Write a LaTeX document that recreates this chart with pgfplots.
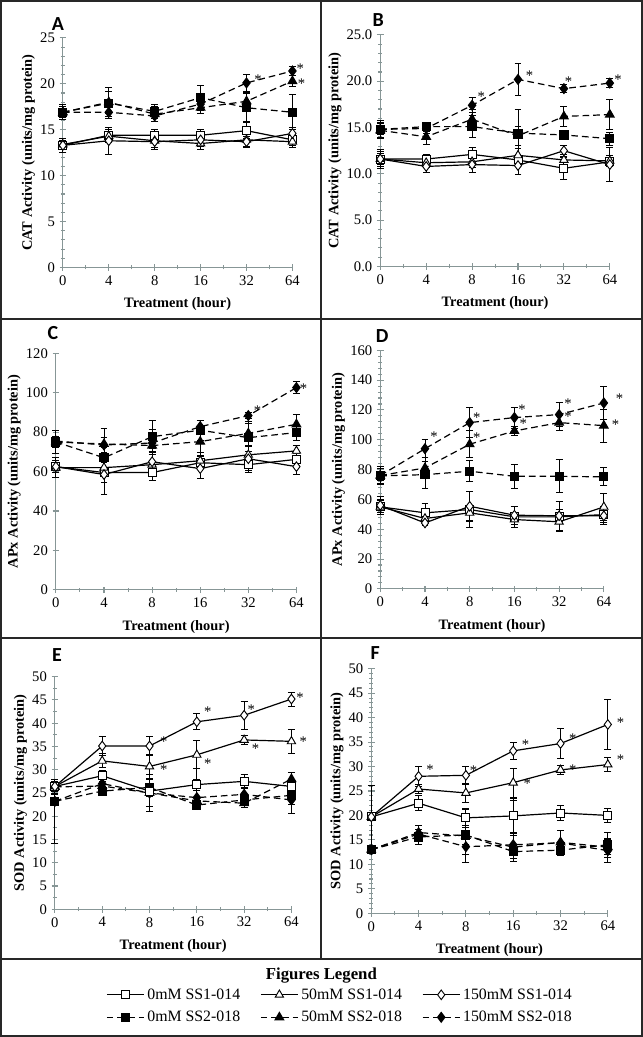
\documentclass[border=0pt]{standalone}
\usepackage{pgfplots}
\pgfplotsset{compat=1.18}
\usepackage{fontspec}
\setmainfont{Liberation Serif}
\newfontfamily\carlito{Carlito}
\definecolor{axisgray}{RGB}{135,150,150}
\definecolor{framec}{RGB}{40,40,40}

\pgfplotsset{
  panel/.style={
    scale only axis, anchor=south west,
    axis x line=bottom, axis y line=left,
    axis line style={draw=axisgray, line width=0.8pt, -},
    every tick/.style={draw=axisgray, line width=0.8pt},
    xmin=0, xmax=5, xtick={0,1,2,3,4,5}, xticklabels={0,4,8,16,32,64},
    minor x tick num=1, ymin=0, enlargelimits=false,
    tick align=center, major tick length=5pt, minor tick length=3pt,
    xlabel={Treatment (hour)},
    xlabel shift=2.5pt, ylabel shift=-3pt,
    label style={font=\bfseries\fontsize{10.8}{12}\selectfont},
    tick label style={font=\fontsize{11}{12}\selectfont},
    /pgf/number format/assume math mode=true,
    clip=false,
  },
  ebars/.style={
    error bars/y dir=both, error bars/y explicit,
    error bars/error bar style={line width=0.7pt, solid, black},
    error bars/error mark options={rotate=90, mark size=2.6pt, line width=0.7pt, black, solid},
  },
  osq/.style={black, line width=0.9pt, solid, mark=square*, mark size=3pt, mark options={fill=white, solid, line width=0.7pt}, ebars},
  otri/.style={black, line width=0.9pt, solid, mark=triangle*, mark size=3.6pt, mark options={fill=white, solid, line width=0.7pt}, ebars},
  odia/.style={black, line width=0.9pt, solid, mark=diamond*, mark size=3.6pt, mark options={fill=white, solid, line width=0.7pt}, ebars},
  fsq/.style={black, line width=0.9pt, dash pattern=on 5pt off 3pt, mark=square*, mark size=3pt, mark options={fill=black, solid}, ebars},
  ftri/.style={black, line width=0.9pt, dash pattern=on 5pt off 3pt, mark=triangle*, mark size=3.6pt, mark options={fill=black, solid}, ebars},
  fdia/.style={black, line width=0.9pt, dash pattern=on 5pt off 3pt, mark=diamond*, mark size=3.6pt, mark options={fill=black, solid}, ebars},
  stars/.style={only marks, mark=text, text mark={\fontsize{11}{12}\selectfont *}},
}

\begin{document}
\begin{tikzpicture}[x=0.75pt,y=0.75pt]
% frame
\draw[framec, line width=1.5pt] (0,0) rectangle (642,1037);
\draw[framec, line width=1.5pt] (321,77) -- (321,1037);
\draw[framec, line width=1.5pt] (0,718) -- (642,718);
\draw[framec, line width=1.5pt] (0,399) -- (642,399);
\draw[framec, line width=1.5pt] (0,77) -- (642,77);

% panel letters
\node[font=\carlito\bfseries\fontsize{15}{16}\selectfont] at (57,1014) {A};
\node[font=\carlito\bfseries\fontsize{15}{16}\selectfont] at (378,1018) {B};
\node[font=\carlito\bfseries\fontsize{15}{16}\selectfont] at (52,704) {C};
\node[font=\carlito\bfseries\fontsize{15}{16}\selectfont] at (382,701) {D};
\node[font=\carlito\bfseries\fontsize{15}{16}\selectfont] at (56,382) {E};
\node[font=\carlito\bfseries\fontsize{15}{16}\selectfont] at (375,384) {F};

% ---------- A ----------
\begin{axis}[panel, at={(46.5pt,577.5pt)}, width=172.5pt, height=172.5pt,
  ymax=25, ytick={0,5,...,25}, minor y tick num=4,
  ylabel={CAT Activity (units/mg protein)}]
\addplot[fsq] coordinates {(0,16.9)+-(0,0.8) (1,17.9)+-(0,1.7) (2,17.0)+-(0,0.8) (3,18.5)+-(0,1.3) (4,17.4)+-(0,1.5) (5,16.9)+-(0,1.9)};
\addplot[ftri] coordinates {(0,16.9)+-(0,0.6) (1,18.0)+-(0,1.2) (2,16.7)+-(0,0.8) (3,17.4)+-(0,0.6) (4,18.1)+-(0,1.0) (5,20.3)+-(0,0.6)};
\addplot[fdia] coordinates {(0,16.9)+-(0,0.6) (1,16.9)+-(0,0.5) (2,16.5)+-(0,0.6) (3,17.8)+-(0,0.7) (4,20.1)+-(0,0.9) (5,21.4)+-(0,0.5)};
\addplot[osq] coordinates {(0,13.3)+-(0,0.8) (1,14.4)+-(0,0.6) (2,14.4)+-(0,0.6) (3,14.4)+-(0,0.6) (4,14.9)+-(0,0.9) (5,13.9)+-(0,0.6)};
\addplot[otri] coordinates {(0,13.4)+-(0,0.6) (1,14.3)+-(0,0.7) (2,13.8)+-(0,0.7) (3,13.5)+-(0,0.6) (4,13.9)+-(0,0.7) (5,13.7)+-(0,0.6)};
\addplot[odia] coordinates {(0,13.3)+-(0,0.5) (1,13.8)+-(0,1.5) (2,13.7)+-(0,0.8) (3,13.9)+-(0,0.7) (4,13.7)+-(0,0.6) (5,14.6)+-(0,0.6)};
\addplot[stars] coordinates {(4.25,20.5) (5.17,21.7) (5.2,20.0)};
\end{axis}

% ---------- B ----------
\begin{axis}[panel, at={(285pt,578.25pt)}, width=172.5pt, height=174pt,
  ymax=25, ytick={0,5,...,25}, minor y tick num=4,
  yticklabel style={/pgf/number format/.cd, fixed, fixed zerofill, precision=1},
  ylabel={CAT Activity (units/mg protein)}]
\addplot[fsq] coordinates {(0,14.8)+-(0,1.0) (1,15.1)+-(0,0.5) (2,15.1)+-(0,1.2) (3,14.4)+-(0,2.5) (4,14.2)+-(0,0.5) (5,13.8)+-(0,0.7)};
\addplot[ftri] coordinates {(0,14.7)+-(0,0.8) (1,14.0)+-(0,0.8) (2,15.9)+-(0,1.0) (3,14.1)+-(0,1.0) (4,16.2)+-(0,1.1) (5,16.4)+-(0,1.6)};
\addplot[fdia] coordinates {(0,14.8)+-(0,0.6) (1,14.9)+-(0,0.5) (2,17.4)+-(0,0.8) (3,20.2)+-(0,1.7) (4,19.2)+-(0,0.4) (5,19.8)+-(0,0.5)};
\addplot[osq] coordinates {(0,11.6)+-(0,0.6) (1,11.6)+-(0,0.5) (2,12.1)+-(0,0.8) (3,11.5)+-(0,0.6) (4,10.6)+-(0,1.2) (5,11.3)+-(0,0.5)};
\addplot[otri] coordinates {(0,11.6)+-(0,0.8) (1,11.2)+-(0,0.5) (2,11.3)+-(0,0.6) (3,12.0)+-(0,0.7) (4,11.5)+-(0,0.6) (5,11.4)+-(0,0.6)};
\addplot[odia] coordinates {(0,11.6)+-(0,1.0) (1,10.8)+-(0,0.7) (2,11.0)+-(0,0.8) (3,10.9)+-(0,1.0) (4,12.5)+-(0,0.6) (5,11.0)+-(0,1.8)};
\addplot[stars] coordinates {(2.2,18.3) (3.25,20.6) (4.1,20.0) (5.18,20.2)};
\end{axis}

% ---------- C ----------
\begin{axis}[panel, at={(41.25pt,335.25pt)}, width=180.75pt, height=177.75pt,
  ymax=120, ytick={0,20,...,120},
  ylabel={APx Activity (units/mg protein)}]
\addplot[fsq] coordinates {(0,75)+-(0,3) (1,67)+-(0,5) (2,77.7)+-(0,8) (3,81)+-(0,5) (4,77.2)+-(0,7) (5,79.8)+-(0,4)};
\addplot[ftri] coordinates {(0,75)+-(0,6) (1,74)+-(0,8) (2,73.2)+-(0,8) (3,75.2)+-(0,7) (4,79.4)+-(0,6) (5,84)+-(0,5)};
\addplot[fdia] coordinates {(0,75.5)+-(0,2) (1,73.5)+-(0,4) (2,74.5)+-(0,3) (3,82.8)+-(0,3) (4,88.4)+-(0,1.5) (5,102.6)+-(0,3)};
\addplot[osq] coordinates {(0,62.5)+-(0,3) (1,59.5)+-(0,5) (2,59.5)+-(0,4) (3,64.5)+-(0,3) (4,63.5)+-(0,4) (5,66.2)+-(0,3)};
\addplot[otri] coordinates {(0,62)+-(0,5) (1,62)+-(0,4) (2,63.5)+-(0,5) (3,65.5)+-(0,4) (4,68.5)+-(0,5) (5,70.5)+-(0,3)};
\addplot[odia] coordinates {(0,62.5)+-(0,3) (1,58.5)+-(0,10) (2,65)+-(0,5) (3,61.5)+-(0,5) (4,66.5)+-(0,6) (5,62.5)+-(0,4)};
\addplot[stars] coordinates {(4.19,91) (5.15,102)};
\end{axis}

% ---------- D ----------
\begin{axis}[panel, at={(285pt,336pt)}, width=168pt, height=179.25pt,
  ymax=160, ytick={0,20,...,160}, minor y tick num=4,
  ylabel={APx Activity (units/mg protein)}]
\addplot[fsq] coordinates {(0,75.8)+-(0,6) (1,76.6)+-(0,9) (2,78.9)+-(0,7) (3,75.5)+-(0,8) (4,75.5)+-(0,11) (5,75.1)+-(0,6)};
\addplot[ftri] coordinates {(0,76)+-(0,5) (1,81.1)+-(0,7) (2,97)+-(0,9) (3,105.9)+-(0,3) (4,111.5)+-(0,5) (5,109.5)+-(0,11)};
\addplot[fdia] coordinates {(0,76)+-(0,3) (1,94)+-(0,6) (2,111.5)+-(0,10) (3,114.9)+-(0,7) (4,116.9)+-(0,8) (5,124.7)+-(0,11)};
\addplot[osq] coordinates {(0,55)+-(0,5) (1,51)+-(0,6) (2,53.2)+-(0,12) (3,48.3)+-(0,7) (4,48.3)+-(0,10) (5,49.8)+-(0,5)};
\addplot[otri] coordinates {(0,55)+-(0,4) (1,47.2)+-(0,3) (2,51)+-(0,5) (3,46.5)+-(0,3) (4,45)+-(0,6) (5,55)+-(0,9)};
\addplot[odia] coordinates {(0,56)+-(0,6) (1,44.2)+-(0,2) (2,55.4)+-(0,10) (3,49.4)+-(0,6) (4,49)+-(0,4) (5,49)+-(0,6)};
\addplot[stars] coordinates {(1.2,102) (2.16,115) (2.16,101.5) (3.17,120) (3.2,111) (4.2,124.5) (4.2,115.5) (5.35,127.5) (5.26,110)};
\end{axis}

% ---------- E ----------
\begin{axis}[panel, at={(40.5pt,95.25pt)}, width=177.75pt, height=174.75pt,
  ymax=50, ytick={0,5,...,50}, minor y tick num=1,
  ylabel={SOD Activity (units/mg protein)}]
\addplot[fsq] coordinates {(0,23.2)+-(0,0.8) (1,25.4)+-(0,1) (2,26.2)+-(0,2) (3,22.4)+-(0,1) (4,23.5)+-(0,1) (5,24.5)+-(0,2)};
\addplot[ftri] coordinates {(0,26.3)+-(0,1) (1,26.5)+-(0,1.5) (2,25.0)+-(0,4) (3,23.3)+=(0,7)-=(0,1) (4,22.8)+-(0,1) (5,28.0)+-(0,1.5)};
\addplot[fdia] coordinates {(0,23.2)+=(0,1.5)-=(0,9) (1,27.0)+-(0,1) (2,25.0)+-(0,3) (3,24.0)+-(0,1.5) (4,24.7)+-(0,1.5) (5,23.5)+-(0,3)};
\addplot[osq] coordinates {(0,26.4)+-(0,1) (1,28.7)+-(0,1.2) (2,25.4)+-(0,1) (3,26.8)+-(0,1.2) (4,27.5)+-(0,1.5) (5,26.4)+-(0,1)};
\addplot[otri] coordinates {(0,26.4)+-(0,1) (1,31.9)+-(0,1.5) (2,30.7)+-(0,2.5) (3,33.2)+-(0,3) (4,36.4)+-(0,1) (5,36.1)+-(0,2.5)};
\addplot[odia] coordinates {(0,26.4)+-(0,1.5) (1,35.1)+-(0,2) (2,35.1)+-(0,2) (3,40.3)+-(0,1.7) (4,41.7)+-(0,3) (5,45.2)+-(0,1.5)};
\addplot[stars] coordinates {(2.3,36) (2.3,30) (3.23,42.5) (3.23,31.2) (4.15,42.8) (4.24,34.6) (5.18,45.5) (5.25,36)};
\end{axis}

% ---------- F ----------
\begin{axis}[panel, at={(278.25pt,92.25pt)}, width=177.75pt, height=183.75pt,
  ymax=50, ytick={0,5,...,50}, minor y tick num=4,
  ylabel={SOD Activity (units/mg protein)}]
\addplot[fsq] coordinates {(0,13)+-(0,0.5) (1,15.6)+-(0,1.5) (2,16)+-(0,2) (3,12.6)+=(0,10.5)-=(0,1.5) (4,12.9)+-(0,1) (5,14)+-(0,2.5)};
\addplot[ftri] coordinates {(0,13)+-(0,0.5) (1,16.5)+-(0,1.5) (2,15.8)+-(0,5.5) (3,13.5)+-(0,3) (4,14.5)+-(0,2.5) (5,13.5)+-(0,1.5)};
\addplot[fdia] coordinates {(0,13)+-(0,0.5) (1,16.2)+-(0,1) (2,13.6)+-(0,1.5) (3,14)+-(0,2) (4,14.4)+-(0,2.5) (5,12.8)+-(0,2.5)};
\addplot[osq] coordinates {(0,19.7)+-(0,0.8) (1,22.5)+-(0,1.5) (2,19.5)+-(0,2) (3,19.9)+-(0,3.5) (4,20.5)+-(0,1.5) (5,20.0)+-(0,1.5)};
\addplot[otri] coordinates {(0,19.7)+-(0,0.8) (1,25.4)+-(0,1) (2,24.6)+-(0,2) (3,26.7)+-(0,3) (4,29.3)+-(0,1) (5,30.4)+-(0,1.5)};
\addplot[odia] coordinates {(0,19.7)+-(0,6.5) (1,28)+-(0,2) (2,28.2)+-(0,1.8) (3,33.2)+-(0,1.8) (4,34.7)+-(0,3) (5,38.6)+-(0,5.2)};
\addplot[stars] coordinates {(1.24,29.3) (2.16,29.1) (3.26,34.4) (3.3,26.5) (4.26,35.7) (4.26,29.4) (5.27,38.9) (5.27,31.3)};
\end{axis}

% ---------- legend ----------
\node[font=\bfseries\fontsize{12.6}{14}\selectfont] at (321,61) {Figures Legend};
\begin{axis}[hide axis, scale only axis, width=10pt, height=10pt, at={(255pt,22.5pt)}, anchor=center,
  xmin=0, xmax=1, ymin=0, ymax=1,
  legend columns=3,
  legend image code/.code={\draw[mark repeat=2, mark phase=2, #1] plot coordinates {(0pt,0pt) (14pt,0pt) (28pt,0pt)};},
  legend style={at={(0.5,0.5)}, anchor=center, draw=none, fill=none,
    font=\fontsize{11.9}{13}\selectfont, row sep=3.5pt,
    /tikz/every even column/.append style={column sep=13pt},
    nodes={inner sep=2pt}},
  legend cell align=left]
\addlegendimage{osq}\addlegendentry{0mM SS1-014}
\addlegendimage{otri}\addlegendentry{50mM SS1-014}
\addlegendimage{odia}\addlegendentry{150mM SS1-014}
\addlegendimage{fsq}\addlegendentry{0mM SS2-018}
\addlegendimage{ftri}\addlegendentry{50mM SS2-018}
\addlegendimage{fdia}\addlegendentry{150mM SS2-018}
\end{axis}
\end{tikzpicture}
\end{document}
